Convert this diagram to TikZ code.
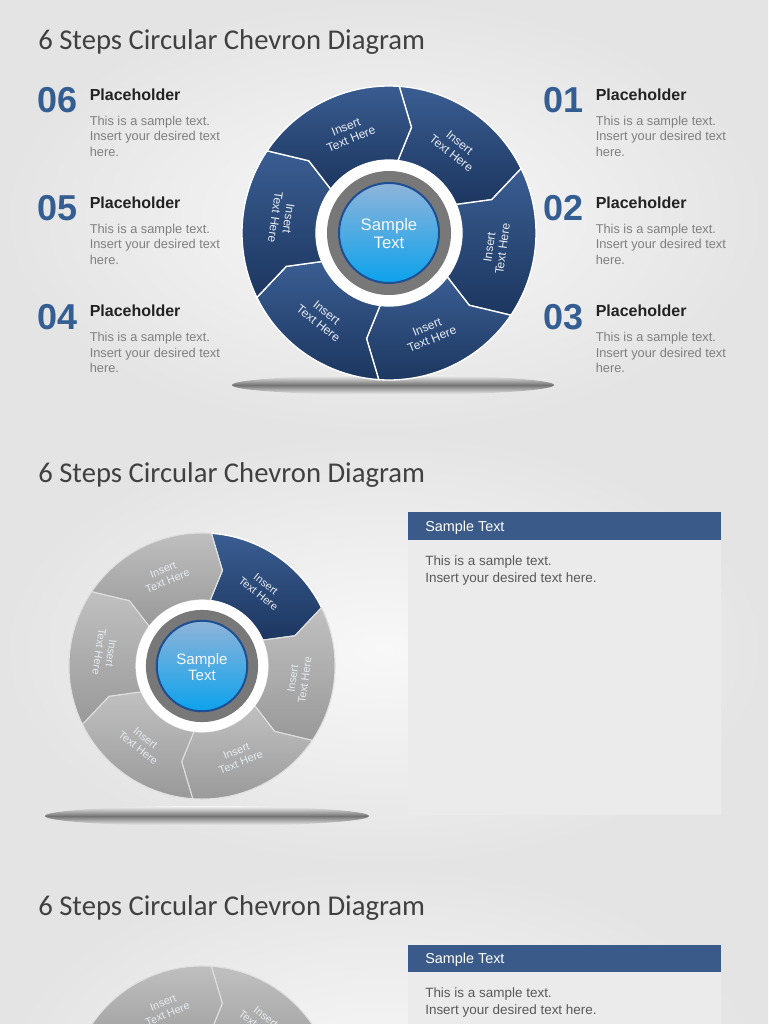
\documentclass[tikz,border=0pt]{standalone}
\usepackage{fontspec}
\setmainfont{Liberation Sans}
\newfontfamily\titlefont{Carlito}
\usetikzlibrary{calc}

\definecolor{bgin}{HTML}{F8F8F8}
\definecolor{bgout}{HTML}{E4E4E4}
\definecolor{titlegray}{HTML}{404040}
\definecolor{numblue}{HTML}{345D92}
\definecolor{headgray}{HTML}{222222}
\definecolor{descgray}{HTML}{7F7F7F}
\definecolor{chevtop}{HTML}{3A5D92}
\definecolor{chevbot}{HTML}{1C365F}
\definecolor{greytop}{HTML}{C0C0C0}
\definecolor{greybot}{HTML}{999999}
\definecolor{ringgray}{HTML}{787878}
\definecolor{balltop}{HTML}{8FB4DA}
\definecolor{ballbot}{HTML}{0CA2EC}
\definecolor{balledge}{HTML}{1E4F93}
\definecolor{headblue}{HTML}{3A5A89}
\definecolor{panelgray}{HTML}{EBEBEB}
\definecolor{paneltext}{HTML}{595959}

\tikzset{
  segblue/.style={top color=chevtop, bottom color=chevbot, draw=white, line width=1pt},
  seggray/.style={top color=greytop, bottom color=greybot, draw=white!75!gray, line width=0.8pt},
  seglabel/.style={transform shape, align=center, inner sep=0pt, text=white!88!chevtop,
    font=\fontsize{9}{10}\selectfont},
  balltext/.style={transform shape, align=center, inner sep=0pt, text=white!90!balltop,
    font=\fontsize{12.5}{13.5}\selectfont},
  titletext/.style={anchor=west, inner sep=0pt, text=titlegray, font=\titlefont\fontsize{21.5}{24}\selectfont},
  stepnum/.style={anchor=base west, inner sep=0pt, text=numblue, font=\bfseries\fontsize{27}{27}\selectfont},
  stephead/.style={anchor=base west, inner sep=0pt, text=headgray, font=\bfseries\fontsize{12}{14}\selectfont},
  stepdesc/.style={anchor=base west, inner sep=0pt, align=left, text=descgray, font=\fontsize{9.6}{11.6}\selectfont},
  paneltitle/.style={anchor=base west, inner sep=0pt, text=white, font=\fontsize{10.8}{13}\selectfont},
  paneldesc/.style={anchor=base west, inner sep=0pt, align=left, text=paneltext, font=\fontsize{10.1}{12.75}\selectfont},
  barshadow/.style={top color=black!4, bottom color=black!4, middle color=black!55}
}

% wheel of six chevrons: #1 = style of the segments, #2 = segment drawn in blue
\newcommand{\chevronwheel}[2]{%
  \foreach \i/\rot in {0/-38,1/82,2/22,3/-38,4/-98,5/22} {
    \pgfmathsetmacro\angA{86-60*\i}
    \pgfmathsetmacro\angB{\angA-60}
    \ifnum\i=#2 \tikzset{segnow/.style={segblue}}\else\tikzset{segnow/.style={#1}}\fi
    \path[segnow] (\angA:147) arc[start angle=\angA, end angle=\angB, radius=147]
      -- (\angB-8:108) -- (\angB-3:73) arc[start angle=\angB-3, end angle=\angA-3, radius=73]
      -- (\angA-8:108) -- cycle;
    \node[seglabel, rotate=\rot] (seg\i) at (\angA-34:108) {Insert\\Text Here};
  }
  % hub
  \fill[white] (0,0) circle (73);
  \fill[ringgray] (0,0) circle (62);
  \shade[top color=balltop, bottom color=ballbot, draw=balledge, line width=1.5pt] (0,0) circle (50);
  \node[balltext] (hub) at (0,-1) {Sample\\Text};
}

\begin{document}
\begin{tikzpicture}[x=0.75pt, y=0.75pt]
\useasboundingbox (0,0) rectangle (768,-1024);

% Slide backgrounds
\foreach \s in {0,1,2} {
    \shade[inner color=bgin, outer color=bgout] (0,-433*\s) rectangle (768,-433*\s-433);
}

% Slide 1: wheel with six numbered steps
\begin{scope}
    \node[titletext] (title1) at (38,-42) {6 Steps Circular Chevron Diagram};

    \shade[barshadow] (393,-385) ellipse [x radius=161, y radius=10];

    \begin{scope}[shift={(389,-233)}]
        \chevronwheel{segblue}{-1}
    \end{scope}

    \foreach \num/\px/\row in {06/37/0, 05/37/1, 04/37/2, 01/543/0, 02/543/1, 03/543/2} {
        \node[stepnum] (num\num) at (\px, -112.5-108.4*\row) {\num};
        \node[stephead] (head\num) at (\px+52.5, -100-108.4*\row) {Placeholder};
        \node[stepdesc] (desc\num) at (\px+52.5, -156-108.4*\row) {This is a sample text.\\Insert your desired text\\here.};
    }
\end{scope}

% Slide 2: step 01 highlighted
\begin{scope}[shift={(0,-433)}]
    \node[titletext] (title2) at (38,-42) {6 Steps Circular Chevron Diagram};

    \shade[barshadow] (207,-383) ellipse [x radius=162, y radius=10];

    \begin{scope}[shift={(202,-233)}, scale=0.905]
        \chevronwheel{seggray}{0}
    \end{scope}

    \fill[headblue] (408,-79) rectangle (721,-107);
    \fill[panelgray] (408,-107) rectangle (721,-382);
    \node[paneltitle] (ptitle2) at (425,-98) {Sample Text};
    \node[paneldesc] (pdesc2) at (425,-149) {This is a sample text.\\Insert your desired text here.};
\end{scope}

% Slide 3: cut off by the page
\begin{scope}[shift={(0,-866)}]
    \node[titletext] (title3) at (38,-42) {6 Steps Circular Chevron Diagram};

    \begin{scope}[shift={(202,-233)}, scale=0.905]
        \chevronwheel{seggray}{-1}
    \end{scope}

    \fill[headblue] (408,-79) rectangle (721,-106);
    \fill[panelgray] (408,-106) rectangle (721,-382);
    \node[paneltitle] (ptitle3) at (425,-97) {Sample Text};
    \node[paneldesc] (pdesc3) at (425,-148) {This is a sample text.\\Insert your desired text here.};
\end{scope}

\end{tikzpicture}
\end{document}
